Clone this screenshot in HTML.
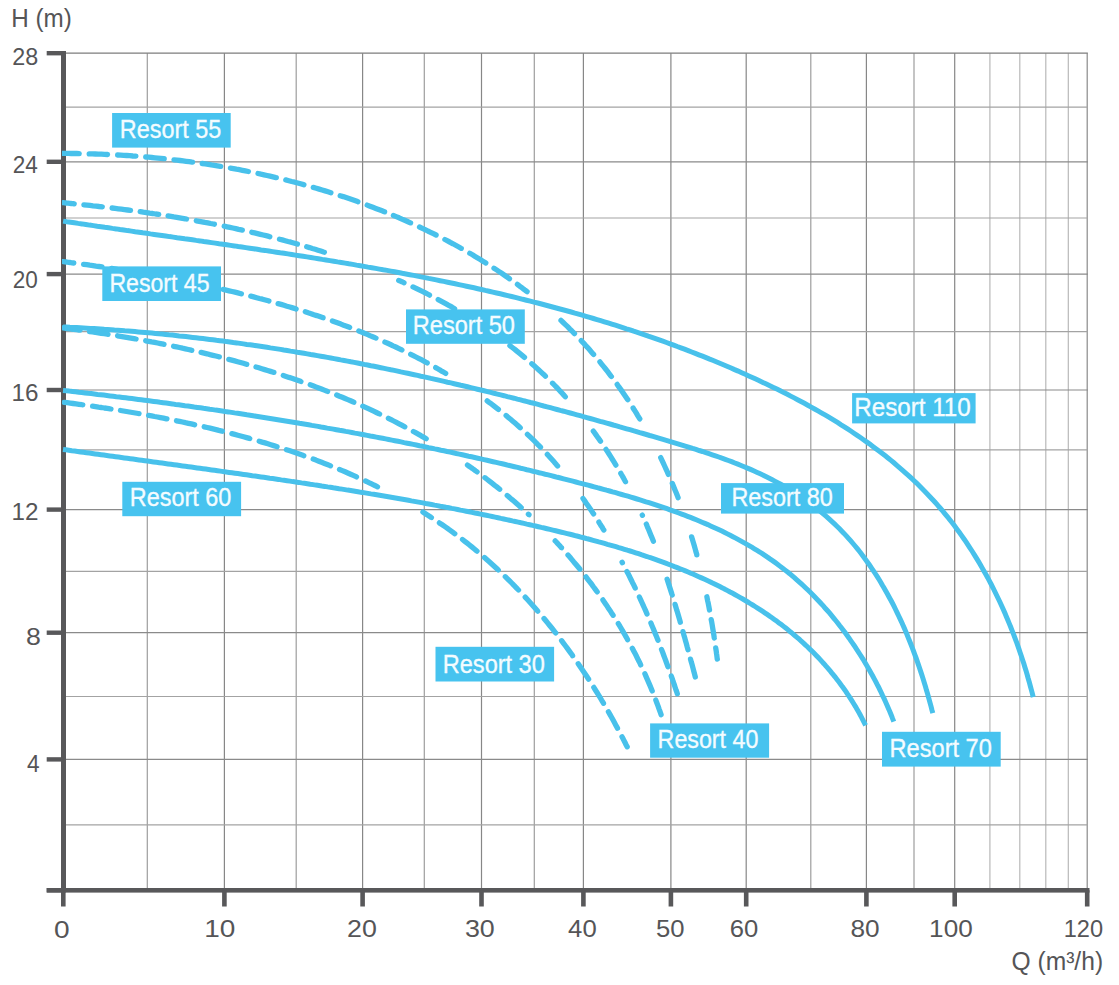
<!DOCTYPE html>
<html><head><meta charset="utf-8"><title>Resort pump curves</title>
<style>html,body{margin:0;padding:0;background:#fff;} body{width:1119px;height:985px;position:relative;overflow:hidden;}</style>
</head><body>
<svg width="1119" height="985" viewBox="0 0 1119 985" style="position:absolute;left:0;top:0">
<line x1="147.3" y1="53.2" x2="147.3" y2="890.2" stroke="#9d9d9d" stroke-width="1.2"/>
<line x1="224.4" y1="53.2" x2="224.4" y2="890.2" stroke="#878787" stroke-width="1.2"/>
<line x1="296.2" y1="53.2" x2="296.2" y2="890.2" stroke="#9d9d9d" stroke-width="1.2"/>
<line x1="362.6" y1="53.2" x2="362.6" y2="890.2" stroke="#878787" stroke-width="1.2"/>
<line x1="424.3" y1="53.2" x2="424.3" y2="890.2" stroke="#9d9d9d" stroke-width="1.2"/>
<line x1="481.5" y1="53.2" x2="481.5" y2="890.2" stroke="#878787" stroke-width="1.2"/>
<line x1="534.3" y1="53.2" x2="534.3" y2="890.2" stroke="#9d9d9d" stroke-width="1.2"/>
<line x1="583.4" y1="53.2" x2="583.4" y2="890.2" stroke="#878787" stroke-width="1.2"/>
<line x1="670.9" y1="53.2" x2="670.9" y2="890.2" stroke="#878787" stroke-width="1.2"/>
<line x1="746.2" y1="53.2" x2="746.2" y2="890.2" stroke="#878787" stroke-width="1.2"/>
<line x1="810.8" y1="53.2" x2="810.8" y2="890.2" stroke="#9d9d9d" stroke-width="1.2"/>
<line x1="866.4" y1="53.2" x2="866.4" y2="890.2" stroke="#878787" stroke-width="1.2"/>
<line x1="914.0" y1="53.2" x2="914.0" y2="890.2" stroke="#9d9d9d" stroke-width="1.2"/>
<line x1="954.7" y1="53.2" x2="954.7" y2="890.2" stroke="#878787" stroke-width="1.2"/>
<line x1="989.9" y1="53.2" x2="989.9" y2="890.2" stroke="#b8b8b8" stroke-width="1.2"/>
<line x1="1019.8" y1="53.2" x2="1019.8" y2="890.2" stroke="#b8b8b8" stroke-width="1.2"/>
<line x1="1045.8" y1="53.2" x2="1045.8" y2="890.2" stroke="#b8b8b8" stroke-width="1.2"/>
<line x1="1068.3" y1="53.2" x2="1068.3" y2="890.2" stroke="#b8b8b8" stroke-width="1.2"/>
<line x1="1087.2" y1="53.2" x2="1087.2" y2="890.2" stroke="#8a8a8a" stroke-width="1.2"/>
<line x1="63.3" y1="53.2" x2="1087.8500000000001" y2="53.2" stroke="#7d7d7d" stroke-width="1.2"/>
<line x1="63.3" y1="107.2" x2="1087.8500000000001" y2="107.2" stroke="#a3a3a3" stroke-width="1.2"/>
<line x1="63.3" y1="161.8" x2="1087.8500000000001" y2="161.8" stroke="#8a8a8a" stroke-width="1.2"/>
<line x1="63.3" y1="218.0" x2="1087.8500000000001" y2="218.0" stroke="#a3a3a3" stroke-width="1.2"/>
<line x1="63.3" y1="274.1" x2="1087.8500000000001" y2="274.1" stroke="#8a8a8a" stroke-width="1.2"/>
<line x1="63.3" y1="331.6" x2="1087.8500000000001" y2="331.6" stroke="#a3a3a3" stroke-width="1.2"/>
<line x1="63.3" y1="390.0" x2="1087.8500000000001" y2="390.0" stroke="#8a8a8a" stroke-width="1.2"/>
<line x1="63.3" y1="449.8" x2="1087.8500000000001" y2="449.8" stroke="#a3a3a3" stroke-width="1.2"/>
<line x1="63.3" y1="509.6" x2="1087.8500000000001" y2="509.6" stroke="#8a8a8a" stroke-width="1.2"/>
<line x1="63.3" y1="571.3" x2="1087.8500000000001" y2="571.3" stroke="#a3a3a3" stroke-width="1.2"/>
<line x1="63.3" y1="632.7" x2="1087.8500000000001" y2="632.7" stroke="#8a8a8a" stroke-width="1.2"/>
<line x1="63.3" y1="696.5" x2="1087.8500000000001" y2="696.5" stroke="#a3a3a3" stroke-width="1.2"/>
<line x1="63.3" y1="759.4" x2="1087.8500000000001" y2="759.4" stroke="#8a8a8a" stroke-width="1.2"/>
<line x1="63.3" y1="824.8" x2="1087.8500000000001" y2="824.8" stroke="#a3a3a3" stroke-width="1.2"/>
<rect x="61" y="51.0" width="5" height="841.4" fill="#58585a"/>
<rect x="46.7" y="888" width="1042.8" height="4.6" fill="#58585a"/>
<rect x="46.7" y="888.0" width="16.299999999999997" height="4.4" fill="#58585a"/>
<rect x="46.7" y="757.1999999999999" width="16.299999999999997" height="4.4" fill="#58585a"/>
<rect x="46.7" y="630.5" width="16.299999999999997" height="4.4" fill="#58585a"/>
<rect x="46.7" y="507.40000000000003" width="16.299999999999997" height="4.4" fill="#58585a"/>
<rect x="46.7" y="387.8" width="16.299999999999997" height="4.4" fill="#58585a"/>
<rect x="46.7" y="271.90000000000003" width="16.299999999999997" height="4.4" fill="#58585a"/>
<rect x="46.7" y="159.60000000000002" width="16.299999999999997" height="4.4" fill="#58585a"/>
<rect x="46.7" y="51.0" width="16.299999999999997" height="4.4" fill="#58585a"/>
<rect x="61.0" y="890.2" width="4.6" height="16.3" fill="#58585a"/>
<rect x="952.4000000000001" y="890.2" width="4.6" height="16.3" fill="#58585a"/>
<rect x="581.1" y="890.2" width="4.6" height="16.3" fill="#58585a"/>
<rect x="222.1" y="890.2" width="4.6" height="16.3" fill="#58585a"/>
<rect x="864.1" y="890.2" width="4.6" height="16.3" fill="#58585a"/>
<rect x="668.6" y="890.2" width="4.6" height="16.3" fill="#58585a"/>
<rect x="360.3" y="890.2" width="4.6" height="16.3" fill="#58585a"/>
<rect x="1084.9" y="890.2" width="4.6" height="16.3" fill="#58585a"/>
<rect x="743.9000000000001" y="890.2" width="4.6" height="16.3" fill="#58585a"/>
<rect x="479.2" y="890.2" width="4.6" height="16.3" fill="#58585a"/>
<defs><clipPath id="cx"><rect x="62" y="0" width="1100" height="985"/></clipPath></defs>
<g clip-path="url(#cx)"><path d="M63.0,153.4 L65.8,153.4 L68.5,153.4 L71.2,153.5 L74.0,153.5 L76.7,153.5 L79.2,153.6 M89.2,153.8 L92.3,153.9 L95.3,154.0 L98.4,154.1 L101.4,154.2 L104.5,154.3 L107.5,154.5 M117.6,155.0 L120.6,155.2 L123.7,155.4 L126.7,155.5 L129.8,155.7 L132.8,156.0 L135.9,156.2 M145.7,157.0 L148.7,157.2 L151.8,157.5 L154.8,157.8 L157.8,158.1 L160.9,158.4 L163.9,158.7 L164.2,158.7 M174.0,159.8 L177.0,160.1 L180.1,160.5 L183.1,160.9 L186.2,161.3 L189.2,161.7 L192.2,162.1 L192.5,162.1 M202.2,163.5 L205.3,163.9 L208.3,164.4 L211.3,164.9 L214.4,165.3 L217.4,165.8 L220.4,166.3 L220.7,166.4 M230.4,168.1 L233.4,168.6 L236.4,169.2 L239.4,169.7 L242.4,170.3 L245.4,170.9 L248.4,171.5 M258.0,173.5 L261.0,174.2 L264.0,174.8 L267.0,175.5 L270.0,176.2 L273.0,176.9 L276.0,177.6 L276.3,177.6 M285.8,179.9 L288.8,180.7 L291.7,181.5 L294.7,182.2 L297.7,183.0 L300.6,183.8 L303.6,184.6 L303.9,184.7 M313.3,187.4 L316.3,188.2 L319.2,189.1 L322.1,190.0 L325.1,190.9 L328.0,191.8 L330.9,192.7 M340.2,195.7 L343.2,196.6 L346.1,197.6 L349.0,198.6 L351.9,199.6 L354.8,200.6 L357.6,201.6 L357.9,201.7 M367.2,205.1 L370.0,206.2 L372.9,207.3 L375.8,208.4 L378.6,209.5 L381.5,210.6 L384.3,211.7 L384.6,211.8 M393.4,215.5 L396.2,216.6 L399.1,217.8 L401.9,219.1 L404.7,220.3 L407.5,221.5 L410.3,222.8 L410.6,222.9 M419.5,227.0 L422.3,228.3 L425.1,229.6 L427.8,231.0 L430.6,232.3 L433.4,233.7 L436.1,235.0 M444.9,239.5 L447.6,240.9 L450.3,242.4 L453.0,243.8 L455.7,245.3 L458.4,246.8 L461.0,248.3 L461.3,248.4 M469.8,253.3 L472.5,254.8 L475.1,256.4 L477.7,258.0 L480.3,259.6 L482.9,261.2 L485.5,262.8 L485.8,263.0 M494.0,268.2 L496.6,269.9 L499.1,271.6 L501.7,273.3 L504.2,275.0 L506.7,276.8 L509.2,278.5 L509.5,278.7 M517.4,284.4 L518.9,285.5 L520.3,286.6 L521.8,287.7 L523.3,288.8 L524.7,289.9 L526.2,291.0 L527.1,291.7 M561.0,320.4 L563.2,322.5 L565.4,324.6 L567.6,326.7 L569.7,328.9 L571.9,331.0 L574.0,333.2 L574.5,333.6 M581.2,340.6 L583.3,342.8 L585.3,345.1 L587.4,347.3 L589.4,349.6 L591.4,351.9 L593.4,354.2 L593.6,354.4 M599.9,361.9 L601.8,364.3 L603.7,366.6 L605.6,369.0 L607.5,371.4 L609.3,373.8 L611.2,376.3 L611.4,376.5 M617.2,384.4 L618.9,386.9 L620.7,389.4 L622.5,391.9 L624.2,394.4 L625.9,396.9 L627.6,399.5 L627.8,399.7 M633.1,408.0 L634.2,409.8 L635.4,411.6 L636.5,413.4 L637.6,415.3 L638.7,417.1 L639.8,418.9 M660.7,457.6 L662.0,460.4 L663.3,463.2 L664.6,466.0 L665.9,468.8 L667.2,471.6 L668.4,474.4 M672.3,483.4 L673.3,485.7 L674.2,488.0 L675.1,490.2 L676.1,492.5 L677.0,494.8 L677.9,497.1 L678.1,497.7 M691.6,536.9 L692.5,539.8 L693.4,542.7 L694.3,545.7 L695.1,548.6 L695.9,551.6 L696.8,554.5 L696.8,554.8 M706.9,596.8 L707.3,598.9 L707.7,601.0 L708.2,603.1 L708.6,605.2 L709.0,607.3 L709.4,609.4 L709.5,610.0 M711.2,619.6 L711.8,622.6 L712.3,625.7 L712.8,628.7 L713.3,631.7 L713.8,634.7 L714.2,637.7 L714.3,638.0 M715.7,647.9 L716.0,649.7 L716.3,651.5 L716.5,653.4 L716.8,655.2 L717.0,657.0 L717.2,658.8 L717.3,659.1" fill="none" stroke="#48c1eb" stroke-width="5.3" stroke-linecap="round" stroke-linejoin="round"/><path d="M63.2,202.7 L64.8,202.8 L66.4,203.0 L68.1,203.1 L69.7,203.3 L71.4,203.5 L73.1,203.6 L74.2,203.8 M83.9,204.8 L86.9,205.1 L90.0,205.4 L93.0,205.8 L96.1,206.1 L99.2,206.5 L102.3,206.8 M112.1,208.0 L115.2,208.4 L118.3,208.8 L121.4,209.2 L124.5,209.6 L127.7,210.0 L130.5,210.4 M140.2,211.7 L143.3,212.2 L146.4,212.6 L149.6,213.1 L152.7,213.5 L155.8,214.0 L158.7,214.4 M168.1,215.9 L171.0,216.4 L173.9,216.9 L176.8,217.3 L179.6,217.8 L182.5,218.3 L185.4,218.8 L186.5,219.0 M196.3,220.8 L199.2,221.3 L202.0,221.8 L204.9,222.4 L207.8,222.9 L210.7,223.5 L213.5,224.0 L214.4,224.2 M224.2,226.2 L227.1,226.8 L229.9,227.4 L232.8,228.0 L235.7,228.6 L238.6,229.3 L241.4,229.9 L242.3,230.1 M251.8,232.3 L254.6,232.9 L257.5,233.6 L260.4,234.3 L263.2,235.0 L266.1,235.7 L268.9,236.4 L269.8,236.7 M279.5,239.2 L282.3,239.9 L285.2,240.7 L288.0,241.5 L290.9,242.2 L293.7,243.0 L296.5,243.8 L297.4,244.1 M306.7,246.8 L309.5,247.6 L312.3,248.5 L315.2,249.3 L318.0,250.2 L320.8,251.1 L323.6,252.0 L324.4,252.2 M398.7,280.4 L399.5,280.7 L400.3,281.1 L401.1,281.4 L401.9,281.8 L402.7,282.1 L403.5,282.5 L404.0,282.7 M413.0,286.9 L415.6,288.1 L418.2,289.4 L420.8,290.7 L423.4,291.9 L425.9,293.2 L428.5,294.5 L429.5,295.1 M438.2,299.6 L441.0,301.1 L443.8,302.6 L446.6,304.1 L449.3,305.7 L452.1,307.2 L454.6,308.7 M463.0,313.6 L465.7,315.2 L468.3,316.9 L471.0,318.5 L473.7,320.2 L476.3,321.9 L478.7,323.5 M487.0,329.0 L489.6,330.8 L492.2,332.6 L494.8,334.4 L497.3,336.2 L499.8,338.1 L502.1,339.7 M509.9,345.6 L512.3,347.5 L514.8,349.4 L517.2,351.4 L519.7,353.4 L522.1,355.4 L524.5,357.4 M531.8,363.7 L534.2,365.8 L536.5,367.9 L538.8,370.0 L541.1,372.1 L543.4,374.2 L545.4,376.2 M552.5,383.2 L554.8,385.5 L556.9,387.7 L559.1,390.0 L561.3,392.3 L563.4,394.6 L565.3,396.7 M593.3,431.1 L594.5,432.7 L595.7,434.4 L596.8,436.0 L598.0,437.7 L599.2,439.3 L600.3,441.0 L600.5,441.2 M606.0,449.4 L607.6,451.8 L609.2,454.3 L610.7,456.7 L612.3,459.2 L613.8,461.6 L615.3,464.1 L615.9,465.1 M620.8,473.4 L621.5,474.6 L622.3,475.9 L623.0,477.2 L623.7,478.4 L624.4,479.7 L625.1,481.0 L625.5,481.7 M642.3,515.1 L642.4,515.3 M646.3,524.1 L647.4,526.8 L648.6,529.5 L649.7,532.2 L650.8,534.9 L651.9,537.6 L653.0,540.3 L653.4,541.3 M667.1,579.2 L667.9,581.6 L668.7,584.1 L669.5,586.6 L670.3,589.1 L671.1,591.6 L671.9,594.1 L672.2,594.9 M675.1,604.4 L675.9,607.2 L676.7,609.9 L677.6,612.7 L678.4,615.5 L679.2,618.3 L680.0,621.1 L680.3,622.2 M683.0,631.6 L683.8,634.7 L684.7,637.7 L685.5,640.8 L686.4,643.8 L687.2,646.9 L688.0,649.7 M690.5,659.1 L691.3,662.1 L692.2,665.1 L693.0,668.2 L693.8,671.2 L694.6,674.2 L695.3,677.0" fill="none" stroke="#48c1eb" stroke-width="5.3" stroke-linecap="round" stroke-linejoin="round"/><path d="M63.2,261.6 L64.9,261.8 L66.7,262.0 L68.5,262.3 L70.3,262.5 L72.1,262.8 L73.8,263.0 M83.6,264.3 L86.7,264.7 L89.8,265.2 L92.9,265.6 L96.0,266.1 L99.1,266.5 L102.0,266.9 M111.6,268.4 L114.5,268.8 L117.4,269.3 L120.2,269.7 L123.1,270.2 L126.0,270.6 L128.9,271.1 L130.0,271.3 M139.7,272.9 L142.7,273.4 L145.6,273.9 L148.5,274.4 L151.4,274.9 L154.3,275.4 L157.2,275.9 L158.0,276.1 M167.6,277.9 L170.6,278.4 L173.5,279.0 L176.4,279.5 L179.4,280.1 L182.3,280.7 L185.2,281.3 L185.8,281.4 M195.4,283.3 L198.3,283.9 L201.3,284.6 L204.2,285.2 L207.2,285.8 L210.1,286.5 L213.1,287.1 L213.6,287.2 M223.2,289.4 L226.2,290.1 L229.1,290.8 L232.1,291.5 L235.0,292.2 L237.9,292.9 L240.9,293.7 L241.4,293.8 M250.8,296.2 L253.7,296.9 L256.6,297.7 L259.5,298.5 L262.5,299.2 L265.4,300.0 L268.3,300.8 L268.9,301.0 M278.1,303.6 L281.1,304.4 L284.0,305.3 L286.9,306.2 L289.8,307.0 L292.7,307.9 L295.6,308.8 L296.1,309.0 M305.3,311.8 L308.2,312.8 L311.1,313.7 L313.9,314.7 L316.8,315.6 L319.7,316.6 L322.5,317.6 L323.1,317.7 M332.4,321.0 L335.2,322.0 L338.1,323.1 L340.9,324.1 L343.7,325.2 L346.6,326.2 L349.4,327.3 L349.6,327.4 M358.8,331.0 L361.6,332.1 L364.4,333.3 L367.2,334.4 L369.9,335.6 L372.7,336.7 L375.5,337.9 L376.0,338.1 M384.9,342.1 L387.7,343.3 L390.4,344.5 L393.1,345.8 L395.8,347.0 L398.5,348.3 L401.2,349.6 L401.9,350.0 M410.7,354.3 L413.3,355.6 L416.0,357.0 L418.6,358.3 L421.3,359.7 L423.9,361.1 L426.5,362.5 L427.2,362.9 M435.7,367.6 L437.3,368.5 L439.0,369.5 L440.6,370.4 L442.2,371.4 L443.8,372.3 L445.5,373.3 L445.7,373.4 M487.2,400.8 L489.1,402.3 L491.0,403.7 L492.9,405.1 L494.8,406.6 L496.7,408.1 L498.4,409.4 M506.1,415.5 L508.3,417.4 L510.6,419.3 L512.8,421.2 L515.0,423.1 L517.2,425.0 L519.4,427.0 L520.2,427.7 M527.4,434.3 L529.6,436.4 L531.7,438.4 L533.8,440.4 L535.9,442.5 L537.9,444.6 L540.0,446.7 L540.5,447.2 M547.3,454.4 L549.0,456.2 L550.6,458.0 L552.2,459.8 L553.8,461.6 L555.4,463.4 L556.9,465.2 L557.6,466.0 M583.0,498.5 L584.7,500.9 L586.4,503.4 L588.1,505.8 L589.8,508.3 L591.5,510.8 L593.1,513.2 L593.6,513.9 M598.9,522.1 L599.6,523.3 L600.3,524.4 L601.0,525.6 L601.8,526.7 L602.5,527.9 L603.2,529.1 L603.8,530.0 M622.1,562.2 L622.3,562.5 L622.4,562.7 M626.9,571.5 L628.3,574.1 L629.7,576.8 L631.0,579.5 L632.3,582.2 L633.7,584.9 L635.0,587.6 L635.2,588.1 M639.4,597.0 L640.7,599.8 L641.9,602.5 L643.1,605.2 L644.4,608.0 L645.6,610.7 L646.8,613.5 L647.0,614.0 M650.9,623.0 L652.0,625.7 L653.2,628.5 L654.3,631.3 L655.4,634.0 L656.6,636.8 L657.7,639.6 L658.0,640.3 M661.5,649.4 L662.6,652.2 L663.6,655.0 L664.6,657.7 L665.7,660.5 L666.7,663.3 L667.7,666.0 L668.0,666.8 M671.3,676.1 L672.3,678.9 L673.2,681.7 L674.2,684.4 L675.1,687.2 L676.0,690.0 L677.0,692.7 L677.3,693.7" fill="none" stroke="#48c1eb" stroke-width="5.3" stroke-linecap="round" stroke-linejoin="round"/><path d="M63.1,327.9 L65.8,328.3 L68.4,328.6 L71.1,329.0 L73.8,329.3 L76.5,329.7 L79.2,330.1 L80.0,330.2 M89.5,331.5 L92.5,331.9 L95.4,332.4 L98.4,332.8 L101.3,333.3 L104.3,333.7 L107.3,334.2 L108.0,334.3 M117.6,335.8 L120.6,336.3 L123.5,336.8 L126.5,337.3 L129.4,337.8 L132.4,338.3 L135.4,338.9 L136.1,339.0 M145.7,340.8 L148.7,341.3 L151.6,341.9 L154.6,342.4 L157.6,343.0 L160.5,343.6 L163.5,344.2 L164.0,344.3 M173.6,346.3 L176.6,346.9 L179.5,347.5 L182.5,348.2 L185.4,348.8 L188.4,349.5 L191.3,350.2 L191.8,350.3 M201.1,352.4 L204.1,353.1 L207.0,353.8 L210.0,354.6 L212.9,355.3 L215.9,356.0 L218.8,356.8 L219.3,356.9 M228.8,359.4 L231.7,360.1 L234.7,360.9 L237.6,361.7 L240.5,362.5 L243.4,363.3 L246.3,364.2 L246.8,364.3 M256.0,367.0 L258.9,367.8 L261.8,368.7 L264.7,369.6 L267.6,370.5 L270.5,371.4 L273.4,372.3 L273.9,372.4 M283.3,375.5 L286.1,376.4 L289.0,377.4 L291.9,378.3 L294.7,379.3 L297.6,380.3 L300.5,381.3 L300.9,381.5 M310.2,384.8 L313.0,385.8 L315.8,386.9 L318.7,388.0 L321.5,389.0 L324.3,390.1 L327.1,391.2 L327.6,391.4 M336.7,395.0 L339.5,396.2 L342.3,397.3 L345.1,398.5 L347.8,399.6 L350.6,400.8 L353.4,402.0 L353.8,402.2 M362.8,406.2 L365.5,407.4 L368.3,408.7 L371.0,409.9 L373.7,411.2 L376.4,412.5 L379.2,413.8 L379.6,414.0 M388.4,418.3 L391.1,419.7 L393.7,421.0 L396.4,422.4 L399.1,423.8 L401.7,425.2 L404.4,426.6 L404.8,426.8 M413.4,431.5 L415.6,432.7 L417.8,433.9 L420.0,435.1 L422.1,436.4 L424.3,437.6 L426.2,438.7 M467.5,465.1 L469.1,466.2 L470.8,467.4 L472.4,468.5 L474.0,469.7 L475.6,470.9 L477.1,471.9 M484.9,477.7 L487.3,479.5 L489.7,481.4 L492.0,483.2 L494.4,485.1 L496.8,486.9 L499.1,488.8 L499.7,489.3 M507.2,495.5 L509.5,497.4 L511.8,499.4 L514.1,501.3 L516.3,503.3 L518.6,505.3 L520.8,507.3 L521.2,507.6 M528.4,514.2 L528.6,514.4 L528.8,514.6 L529.0,514.7 M555.2,540.9 L556.3,542.0 L557.3,543.1 L558.3,544.2 L559.3,545.3 L560.3,546.4 L561.3,547.6 L561.5,547.7 M568.0,555.0 L570.0,557.3 L571.9,559.6 L573.8,561.9 L575.8,564.2 L577.7,566.5 L579.6,568.8 L579.9,569.2 M586.0,576.9 L587.8,579.3 L589.6,581.6 L591.5,584.0 L593.2,586.5 L595.0,588.9 L596.8,591.3 L597.2,591.9 M602.9,599.9 L604.6,602.4 L606.3,604.9 L607.9,607.4 L609.6,609.9 L611.2,612.4 L612.9,614.9 L613.1,615.3 M618.3,623.6 L619.9,626.2 L621.4,628.8 L622.9,631.4 L624.4,634.0 L625.9,636.6 L627.4,639.2 L627.6,639.7 M632.3,648.3 L633.7,651.0 L635.1,653.6 L636.5,656.3 L637.8,659.0 L639.2,661.7 L640.5,664.4 L640.7,664.9 M644.9,673.8 L646.1,676.6 L647.3,679.3 L648.5,682.1 L649.7,684.9 L650.9,687.7 L652.0,690.5 L652.2,690.9 M655.8,700.1 L656.7,702.5 L657.6,704.9 L658.5,707.3 L659.3,709.6 L660.2,712.0 L661.0,714.4 L661.1,714.7" fill="none" stroke="#48c1eb" stroke-width="5.3" stroke-linecap="round" stroke-linejoin="round"/><path d="M64.3,402.3 L67.3,402.7 L70.2,403.1 L73.1,403.5 L76.1,403.9 L79.0,404.3 L81.9,404.7 L82.8,404.8 M92.6,406.2 L95.5,406.6 L98.5,407.1 L101.4,407.5 L104.4,408.0 L107.3,408.4 L110.3,408.9 L111.0,409.0 M120.5,410.5 L123.5,411.0 L126.5,411.5 L129.4,412.0 L132.4,412.5 L135.4,413.0 L138.3,413.5 L139.0,413.6 M148.6,415.4 L151.6,415.9 L154.6,416.5 L157.5,417.0 L160.5,417.6 L163.5,418.2 L166.5,418.8 L166.9,418.9 M176.5,420.8 L179.5,421.4 L182.5,422.0 L185.4,422.7 L188.4,423.3 L191.4,423.9 L194.3,424.6 L194.6,424.7 M204.2,426.8 L207.1,427.5 L210.1,428.2 L213.0,428.9 L216.0,429.6 L218.9,430.4 L221.9,431.1 L222.4,431.2 M231.9,433.7 L234.8,434.4 L237.8,435.2 L240.7,436.0 L243.6,436.8 L246.6,437.6 L249.5,438.4 L249.7,438.5 M259.2,441.2 L262.1,442.1 L265.0,442.9 L267.9,443.8 L270.8,444.7 L273.7,445.6 L276.6,446.5 L277.0,446.7 M286.4,449.7 L289.2,450.6 L292.1,451.6 L295.0,452.6 L297.8,453.6 L300.7,454.6 L303.5,455.6 L303.8,455.7 M313.2,459.1 L316.0,460.1 L318.8,461.2 L321.6,462.3 L324.5,463.4 L327.3,464.5 L330.1,465.6 L330.5,465.8 M339.5,469.5 L342.3,470.6 L345.1,471.8 L347.8,473.0 L350.6,474.2 L353.3,475.4 L356.1,476.7 L356.5,476.9 M365.5,481.0 L367.4,481.9 L369.3,482.8 L371.1,483.7 L373.0,484.6 L374.9,485.5 L376.7,486.4 L377.5,486.8 M422.9,512.1 L424.3,513.0 L425.6,513.8 L427.0,514.7 L428.3,515.5 L429.7,516.4 L431.0,517.3 L431.4,517.5 M439.4,522.9 L441.9,524.5 L444.3,526.2 L446.8,527.9 L449.2,529.7 L451.6,531.4 L454.0,533.2 L454.8,533.7 M462.5,539.5 L464.8,541.3 L467.2,543.2 L469.5,545.0 L471.8,546.9 L474.1,548.8 L476.4,550.7 L477.0,551.1 M484.5,557.5 L486.7,559.5 L489.0,561.5 L491.2,563.5 L493.4,565.5 L495.6,567.5 L497.8,569.5 L498.3,570.0 M505.3,576.7 L507.5,578.8 L509.6,580.9 L511.7,583.0 L513.8,585.2 L515.9,587.3 L518.0,589.5 L518.5,590.0 M525.2,597.1 L527.2,599.3 L529.2,601.5 L531.2,603.7 L533.2,606.0 L535.2,608.3 L537.2,610.5 L537.7,611.1 M544.0,618.5 L545.9,620.8 L547.8,623.1 L549.7,625.5 L551.6,627.8 L553.5,630.2 L555.4,632.6 L555.7,632.9 M561.6,640.7 L563.4,643.1 L565.2,645.5 L567.0,647.9 L568.8,650.4 L570.6,652.8 L572.4,655.3 L572.6,655.7 M578.2,663.7 L579.9,666.2 L581.6,668.7 L583.3,671.2 L585.0,673.7 L586.7,676.2 L588.3,678.8 L588.6,679.2 M593.8,687.4 L595.4,690.0 L597.0,692.5 L598.6,695.1 L600.2,697.7 L601.7,700.3 L603.3,702.9 L603.5,703.3 M608.4,711.7 L609.9,714.4 L611.4,717.0 L612.8,719.6 L614.3,722.3 L615.7,724.9 L617.2,727.6 L617.5,728.2 M622.0,736.8 L622.9,738.4 L623.7,740.0 L624.6,741.7 L625.4,743.3 L626.2,745.0 L627.1,746.6 L627.2,746.8" fill="none" stroke="#48c1eb" stroke-width="5.3" stroke-linecap="round" stroke-linejoin="round"/><path d="M63.1,221.1 L66.9,221.7 L70.6,222.2 L74.4,222.8 L78.2,223.4 L82.0,223.9 L85.8,224.5 L89.6,225.1 L93.4,225.6 L97.2,226.2 L101.0,226.7 L104.8,227.3 L108.6,227.8 L112.4,228.4 L116.2,228.9 L120.0,229.5 L123.8,230.0 L127.6,230.6 L131.4,231.1 L135.2,231.7 L139.0,232.2 L142.8,232.8 L146.6,233.3 L150.4,233.9 L154.2,234.4 L158.0,234.9 L161.9,235.5 L165.7,236.0 L169.5,236.6 L173.3,237.1 L177.1,237.7 L180.9,238.2 L184.7,238.8 L188.6,239.3 L192.4,239.8 L196.2,240.4 L200.0,240.9 L203.8,241.5 L207.6,242.0 L211.5,242.6 L215.3,243.1 L219.1,243.7 L222.9,244.2 L226.7,244.8 L230.6,245.4 L234.4,245.9 L238.2,246.5 L242.0,247.0 L245.8,247.6 L249.7,248.2 L253.5,248.7 L257.3,249.3 L261.1,249.9 L265.0,250.4 L268.8,251.0 L272.6,251.6 L276.4,252.2 L280.2,252.8 L284.1,253.3 L287.9,253.9 L291.7,254.5 L295.5,255.1 L299.3,255.7 L303.1,256.3 L307.0,256.9 L310.8,257.5 L314.6,258.1 L318.4,258.7 L322.2,259.4 L326.0,260.0 L329.9,260.6 L333.7,261.2 L337.5,261.9 L341.3,262.5 L345.1,263.1 L348.9,263.8 L352.7,264.4 L356.5,265.1 L360.3,265.7 L364.2,266.4 L368.0,267.1 L371.8,267.7 L375.6,268.4 L379.4,269.1 L383.2,269.8 L387.0,270.4 L390.8,271.1 L394.6,271.8 L398.4,272.5 L402.2,273.3 L406.0,274.0 L409.8,274.7 L413.6,275.4 L417.3,276.1 L421.1,276.9 L424.9,277.6 L428.7,278.4 L432.5,279.1 L436.3,279.9 L440.1,280.7 L443.8,281.4 L447.6,282.2 L451.4,283.0 L455.2,283.8 L458.9,284.6 L462.7,285.4 L466.5,286.2 L470.2,287.0 L474.0,287.8 L477.8,288.7 L481.5,289.5 L485.3,290.4 L489.1,291.2 L492.8,292.1 L496.6,293.0 L500.3,293.8 L504.1,294.7 L507.8,295.6 L511.6,296.5 L515.3,297.4 L519.1,298.3 L522.8,299.3 L526.5,300.2 L530.3,301.1 L534.0,302.1 L537.7,303.0 L541.5,304.0 L545.2,305.0 L548.9,306.0 L552.6,307.0 L556.3,308.0 L560.0,309.0 L563.8,310.0 L567.5,311.0 L571.2,312.0 L574.9,313.1 L578.6,314.1 L582.3,315.2 L586.0,316.3 L589.7,317.4 L593.4,318.5 L597.0,319.6 L600.7,320.7 L604.4,321.8 L608.1,322.9 L611.8,324.1 L615.4,325.2 L619.1,326.4 L622.8,327.6 L626.4,328.8 L630.1,329.9 L633.7,331.2 L637.4,332.4 L641.0,333.6 L644.7,334.8 L648.3,336.1 L652.0,337.3 L655.6,338.6 L659.2,339.9 L662.9,341.2 L666.5,342.5 L670.1,343.8 L673.7,345.1 L677.3,346.5 L680.9,347.8 L684.5,349.2 L688.2,350.6 L691.7,352.0 L695.3,353.4 L698.9,354.8 L702.5,356.2 L706.1,357.6 L709.7,359.1 L713.3,360.5 L716.8,362.0 L720.4,363.5 L724.0,365.0 L727.5,366.5 L731.1,368.0 L734.6,369.6 L738.2,371.1 L741.7,372.7 L745.3,374.3 L748.8,375.9 L752.3,377.5 L755.8,379.1 L759.4,380.7 L762.9,382.4 L766.4,384.0 L769.9,385.7 L773.4,387.4 L776.9,389.1 L780.3,390.8 L783.8,392.6 L787.3,394.3 L790.7,396.1 L794.2,397.9 L797.6,399.7 L801.0,401.5 L804.4,403.3 L807.8,405.2 L811.2,407.1 L814.6,409.0 L818.0,410.9 L821.3,412.8 L824.6,414.7 L828.0,416.7 L831.3,418.7 L834.6,420.7 L837.9,422.7 L841.1,424.8 L844.4,426.8 L847.6,428.9 L850.8,431.0 L854.0,433.2 L857.2,435.3 L860.4,437.5 L863.5,439.7 L866.6,441.9 L869.8,444.1 L872.8,446.4 L875.9,448.7 L879.0,451.0 L882.0,453.3 L885.0,455.6 L888.0,458.0 L891.0,460.4 L893.9,462.8 L896.8,465.3 L899.7,467.8 L902.6,470.3 L905.4,472.8 L908.3,475.3 L911.1,477.9 L913.8,480.5 L916.6,483.1 L919.3,485.8 L922.0,488.5 L924.7,491.2 L927.3,493.9 L929.9,496.7 L932.5,499.5 L935.1,502.3 L937.6,505.1 L940.1,508.0 L942.6,510.9 L945.0,513.8 L947.5,516.8 L949.8,519.8 L952.2,522.8 L954.5,525.8 L956.8,528.9 L959.1,532.0 L961.3,535.1 L963.5,538.2 L965.7,541.4 L967.8,544.6 L969.9,547.8 L972.0,551.0 L974.1,554.3 L976.1,557.6 L978.1,560.9 L980.1,564.2 L982.0,567.6 L983.9,570.9 L985.8,574.3 L987.7,577.7 L989.5,581.1 L991.3,584.5 L993.1,588.0 L994.8,591.5 L996.5,595.0 L998.2,598.5 L999.9,602.0 L1001.5,605.5 L1003.1,609.1 L1004.7,612.6 L1006.2,616.2 L1007.7,619.8 L1009.2,623.4 L1010.7,627.0 L1012.1,630.6 L1013.5,634.2 L1014.9,637.9 L1016.3,641.5 L1017.6,645.2 L1018.9,648.9 L1020.1,652.5 L1021.4,656.2 L1022.6,659.9 L1023.8,663.6 L1024.9,667.3 L1026.1,671.1 L1027.2,674.8 L1028.2,678.5 L1029.3,682.2 L1030.3,686.0 L1031.3,689.7 L1032.3,693.4 L1033.2,697.2" fill="none" stroke="#48c1eb" stroke-width="5" stroke-linecap="butt"/><path d="M63.0,326.9 L66.4,327.1 L69.9,327.3 L73.3,327.4 L76.7,327.6 L80.2,327.8 L83.6,328.0 L87.0,328.2 L90.4,328.4 L93.9,328.6 L97.3,328.8 L100.7,329.0 L104.2,329.3 L107.6,329.5 L111.0,329.7 L114.4,330.0 L117.8,330.2 L121.2,330.5 L124.7,330.8 L128.1,331.0 L131.5,331.3 L134.9,331.6 L138.3,331.9 L141.7,332.2 L145.1,332.5 L148.5,332.8 L151.9,333.1 L155.3,333.4 L158.7,333.8 L162.1,334.1 L165.5,334.4 L168.9,334.8 L172.3,335.1 L175.7,335.5 L179.1,335.9 L182.5,336.2 L185.9,336.6 L189.3,337.0 L192.7,337.4 L196.1,337.8 L199.5,338.2 L202.9,338.6 L206.2,339.0 L209.6,339.4 L213.0,339.8 L216.4,340.3 L219.8,340.7 L223.2,341.1 L226.5,341.6 L229.9,342.0 L233.3,342.5 L236.7,342.9 L240.0,343.4 L243.4,343.9 L246.8,344.4 L250.2,344.8 L253.5,345.3 L256.9,345.8 L260.3,346.3 L263.6,346.8 L267.0,347.3 L270.4,347.9 L273.7,348.4 L277.1,348.9 L280.5,349.4 L283.8,350.0 L287.2,350.5 L290.5,351.1 L293.9,351.6 L297.3,352.2 L300.6,352.7 L304.0,353.3 L307.3,353.9 L310.7,354.5 L314.0,355.0 L317.4,355.6 L320.7,356.2 L324.1,356.8 L327.4,357.4 L330.8,358.0 L334.1,358.6 L337.5,359.2 L340.8,359.9 L344.2,360.5 L347.5,361.1 L350.9,361.8 L354.2,362.4 L357.5,363.0 L360.9,363.7 L364.2,364.4 L367.6,365.0 L370.9,365.7 L374.2,366.3 L377.6,367.0 L380.9,367.7 L384.3,368.4 L387.6,369.1 L390.9,369.8 L394.3,370.4 L397.6,371.1 L400.9,371.9 L404.3,372.6 L407.6,373.3 L410.9,374.0 L414.3,374.7 L417.6,375.4 L420.9,376.2 L424.3,376.9 L427.6,377.6 L430.9,378.4 L434.2,379.1 L437.6,379.9 L440.9,380.6 L444.2,381.4 L447.5,382.2 L450.9,382.9 L454.2,383.7 L457.5,384.5 L460.8,385.3 L464.2,386.0 L467.5,386.8 L470.8,387.6 L474.1,388.4 L477.4,389.2 L480.8,390.0 L484.1,390.8 L487.4,391.6 L490.7,392.4 L494.0,393.3 L497.4,394.1 L500.7,394.9 L504.0,395.7 L507.3,396.6 L510.6,397.4 L514.0,398.2 L517.3,399.1 L520.6,399.9 L523.9,400.8 L527.2,401.6 L530.5,402.5 L533.8,403.3 L537.2,404.2 L540.5,405.1 L543.8,406.0 L547.1,406.8 L550.4,407.7 L553.7,408.6 L557.0,409.5 L560.3,410.4 L563.7,411.2 L567.0,412.1 L570.3,413.0 L573.6,413.9 L576.9,414.8 L580.2,415.7 L583.5,416.7 L586.8,417.6 L590.2,418.5 L593.5,419.4 L596.8,420.3 L600.1,421.3 L603.4,422.2 L606.7,423.1 L610.0,424.0 L613.3,425.0 L616.6,425.9 L619.9,426.9 L623.2,427.8 L626.6,428.8 L629.9,429.7 L633.2,430.7 L636.5,431.6 L639.8,432.6 L643.1,433.5 L646.4,434.5 L649.7,435.5 L653.0,436.4 L656.3,437.4 L659.6,438.4 L663.0,439.4 L666.3,440.3 L669.6,441.3 L672.9,442.3 L676.2,443.3 L679.5,444.3 L682.8,445.3 L686.1,446.3 L689.4,447.3 L692.7,448.4 L696.0,449.4 L699.2,450.5 L702.5,451.5 L705.8,452.6 L709.0,453.7 L712.3,454.8 L715.5,455.9 L718.8,457.0 L722.0,458.2 L725.2,459.3 L728.4,460.5 L731.6,461.7 L734.8,463.0 L737.9,464.2 L741.1,465.5 L744.2,466.8 L747.4,468.1 L750.5,469.4 L753.6,470.8 L756.7,472.2 L759.7,473.6 L762.8,475.0 L765.8,476.5 L768.8,478.0 L771.8,479.5 L774.8,481.1 L777.7,482.7 L780.7,484.3 L783.6,486.0 L786.5,487.7 L789.4,489.4 L792.2,491.2 L795.0,493.0 L797.8,494.8 L800.6,496.7 L803.4,498.6 L806.1,500.5 L808.8,502.5 L811.5,504.5 L814.2,506.5 L816.8,508.5 L819.4,510.6 L822.0,512.8 L824.5,514.9 L827.1,517.1 L829.6,519.4 L832.0,521.6 L834.5,523.9 L836.9,526.2 L839.3,528.6 L841.6,531.0 L844.0,533.4 L846.3,535.9 L848.5,538.4 L850.8,540.9 L853.0,543.5 L855.1,546.0 L857.3,548.7 L859.4,551.3 L861.5,554.0 L863.5,556.7 L865.5,559.4 L867.5,562.2 L869.5,565.0 L871.4,567.8 L873.3,570.6 L875.2,573.5 L877.1,576.4 L878.9,579.3 L880.7,582.2 L882.4,585.2 L884.2,588.2 L885.9,591.2 L887.6,594.2 L889.2,597.2 L890.9,600.3 L892.5,603.3 L894.1,606.4 L895.6,609.5 L897.1,612.6 L898.6,615.8 L900.1,618.9 L901.6,622.1 L903.0,625.3 L904.4,628.4 L905.8,631.6 L907.1,634.8 L908.4,638.1 L909.7,641.3 L911.0,644.5 L912.3,647.8 L913.5,651.0 L914.7,654.3 L915.9,657.5 L917.1,660.8 L918.2,664.1 L919.3,667.3 L920.4,670.6 L921.5,673.9 L922.6,677.2 L923.6,680.4 L924.6,683.7 L925.6,687.0 L926.5,690.3 L927.5,693.6 L928.4,696.8 L929.3,700.1 L930.2,703.4 L931.1,706.6 L931.9,709.9 L932.8,713.1" fill="none" stroke="#48c1eb" stroke-width="5" stroke-linecap="butt"/><path d="M63.0,390.4 L66.1,390.7 L69.3,391.1 L72.4,391.4 L75.5,391.8 L78.7,392.2 L81.8,392.5 L85.0,392.9 L88.1,393.3 L91.2,393.6 L94.4,394.0 L97.5,394.4 L100.6,394.7 L103.8,395.1 L106.9,395.5 L110.0,395.9 L113.2,396.3 L116.3,396.7 L119.4,397.0 L122.5,397.4 L125.7,397.8 L128.8,398.2 L131.9,398.6 L135.0,399.0 L138.2,399.4 L141.3,399.8 L144.4,400.2 L147.5,400.6 L150.6,401.0 L153.7,401.4 L156.9,401.8 L160.0,402.3 L163.1,402.7 L166.2,403.1 L169.3,403.5 L172.4,403.9 L175.5,404.4 L178.7,404.8 L181.8,405.2 L184.9,405.7 L188.0,406.1 L191.1,406.5 L194.2,407.0 L197.3,407.4 L200.4,407.8 L203.5,408.3 L206.6,408.7 L209.7,409.2 L212.8,409.6 L215.9,410.1 L219.0,410.5 L222.1,411.0 L225.2,411.5 L228.3,411.9 L231.4,412.4 L234.5,412.9 L237.6,413.3 L240.7,413.8 L243.8,414.3 L246.9,414.8 L250.0,415.2 L253.1,415.7 L256.2,416.2 L259.3,416.7 L262.4,417.2 L265.5,417.7 L268.6,418.2 L271.7,418.7 L274.8,419.2 L277.8,419.7 L280.9,420.2 L284.0,420.7 L287.1,421.2 L290.2,421.7 L293.3,422.2 L296.4,422.7 L299.5,423.3 L302.5,423.8 L305.6,424.3 L308.7,424.8 L311.8,425.4 L314.9,425.9 L318.0,426.4 L321.0,427.0 L324.1,427.5 L327.2,428.1 L330.3,428.6 L333.4,429.1 L336.4,429.7 L339.5,430.3 L342.6,430.8 L345.7,431.4 L348.8,431.9 L351.8,432.5 L354.9,433.1 L358.0,433.6 L361.1,434.2 L364.1,434.8 L367.2,435.4 L370.3,436.0 L373.4,436.5 L376.4,437.1 L379.5,437.7 L382.6,438.3 L385.7,438.9 L388.7,439.5 L391.8,440.1 L394.9,440.7 L398.0,441.3 L401.0,441.9 L404.1,442.6 L407.2,443.2 L410.2,443.8 L413.3,444.4 L416.4,445.0 L419.5,445.7 L422.5,446.3 L425.6,446.9 L428.7,447.6 L431.7,448.2 L434.8,448.9 L437.9,449.5 L440.9,450.2 L444.0,450.8 L447.1,451.5 L450.2,452.1 L453.2,452.8 L456.3,453.5 L459.4,454.1 L462.4,454.8 L465.5,455.5 L468.6,456.2 L471.6,456.8 L474.7,457.5 L477.8,458.2 L480.8,458.9 L483.9,459.6 L487.0,460.3 L490.0,461.0 L493.1,461.7 L496.2,462.4 L499.2,463.1 L502.3,463.8 L505.4,464.5 L508.4,465.3 L511.5,466.0 L514.5,466.7 L517.6,467.4 L520.7,468.2 L523.7,468.9 L526.8,469.7 L529.9,470.4 L532.9,471.2 L536.0,471.9 L539.1,472.7 L542.1,473.4 L545.2,474.2 L548.3,474.9 L551.3,475.7 L554.4,476.5 L557.5,477.3 L560.5,478.0 L563.6,478.8 L566.7,479.6 L569.7,480.4 L572.8,481.2 L575.9,482.0 L578.9,482.8 L582.0,483.6 L585.0,484.4 L588.1,485.2 L591.2,486.0 L594.2,486.8 L597.3,487.7 L600.4,488.5 L603.4,489.3 L606.5,490.2 L609.6,491.0 L612.6,491.9 L615.7,492.7 L618.7,493.6 L621.8,494.5 L624.8,495.3 L627.9,496.2 L630.9,497.1 L633.9,498.0 L637.0,499.0 L640.0,499.9 L643.0,500.8 L646.0,501.8 L649.0,502.7 L652.0,503.7 L655.0,504.7 L658.0,505.7 L661.0,506.7 L664.0,507.7 L667.0,508.7 L669.9,509.8 L672.9,510.8 L675.9,511.9 L678.8,513.0 L681.7,514.1 L684.7,515.2 L687.6,516.3 L690.5,517.4 L693.4,518.6 L696.3,519.8 L699.2,521.0 L702.0,522.2 L704.9,523.4 L707.8,524.6 L710.6,525.9 L713.4,527.2 L716.3,528.5 L719.1,529.8 L721.9,531.1 L724.7,532.5 L727.4,533.9 L730.2,535.3 L732.9,536.7 L735.7,538.1 L738.4,539.6 L741.1,541.1 L743.8,542.6 L746.5,544.1 L749.1,545.6 L751.8,547.2 L754.4,548.8 L757.1,550.4 L759.7,552.0 L762.3,553.7 L764.8,555.4 L767.4,557.1 L769.9,558.9 L772.5,560.6 L775.0,562.4 L777.5,564.2 L779.9,566.1 L782.4,568.0 L784.8,569.9 L787.3,571.8 L789.7,573.7 L792.0,575.7 L794.4,577.7 L796.8,579.8 L799.1,581.8 L801.4,583.9 L803.7,586.0 L806.0,588.2 L808.2,590.3 L810.5,592.5 L812.7,594.7 L814.9,597.0 L817.0,599.2 L819.2,601.5 L821.3,603.8 L823.5,606.1 L825.5,608.5 L827.6,610.8 L829.7,613.2 L831.7,615.6 L833.7,618.1 L835.7,620.5 L837.7,623.0 L839.6,625.5 L841.6,628.0 L843.5,630.5 L845.4,633.0 L847.2,635.6 L849.1,638.2 L850.9,640.8 L852.7,643.4 L854.5,646.0 L856.2,648.6 L858.0,651.3 L859.7,654.0 L861.4,656.6 L863.1,659.3 L864.7,662.1 L866.3,664.8 L867.9,667.5 L869.5,670.3 L871.0,673.0 L872.6,675.8 L874.1,678.6 L875.6,681.4 L877.0,684.2 L878.5,687.0 L879.9,689.9 L881.3,692.7 L882.6,695.6 L884.0,698.4 L885.3,701.3 L886.6,704.2 L887.8,707.0 L889.1,709.9 L890.3,712.8 L891.5,715.7 L892.6,718.7 L893.8,721.6" fill="none" stroke="#48c1eb" stroke-width="5" stroke-linecap="butt"/><path d="M63.0,449.4 L65.9,449.8 L68.8,450.2 L71.8,450.7 L74.7,451.1 L77.6,451.5 L80.5,451.9 L83.5,452.3 L86.4,452.7 L89.3,453.1 L92.2,453.5 L95.2,453.9 L98.1,454.3 L101.0,454.7 L103.9,455.1 L106.8,455.5 L109.8,455.9 L112.7,456.3 L115.6,456.7 L118.5,457.1 L121.4,457.5 L124.3,457.9 L127.3,458.3 L130.2,458.7 L133.1,459.1 L136.0,459.5 L138.9,459.9 L141.8,460.3 L144.8,460.7 L147.7,461.1 L150.6,461.5 L153.5,461.9 L156.4,462.3 L159.3,462.7 L162.2,463.1 L165.1,463.5 L168.0,463.9 L171.0,464.3 L173.9,464.7 L176.8,465.1 L179.7,465.5 L182.6,465.9 L185.5,466.3 L188.4,466.7 L191.3,467.1 L194.2,467.5 L197.1,467.9 L200.0,468.3 L202.9,468.7 L205.8,469.1 L208.7,469.5 L211.6,469.9 L214.6,470.3 L217.5,470.7 L220.4,471.1 L223.3,471.6 L226.2,472.0 L229.1,472.4 L232.0,472.8 L234.9,473.2 L237.8,473.6 L240.7,474.0 L243.6,474.4 L246.5,474.8 L249.4,475.2 L252.3,475.7 L255.2,476.1 L258.1,476.5 L261.0,476.9 L263.9,477.3 L266.8,477.7 L269.7,478.2 L272.6,478.6 L275.5,479.0 L278.4,479.4 L281.2,479.9 L284.1,480.3 L287.0,480.7 L289.9,481.1 L292.8,481.6 L295.7,482.0 L298.6,482.4 L301.5,482.9 L304.4,483.3 L307.3,483.7 L310.2,484.2 L313.1,484.6 L316.0,485.1 L318.9,485.5 L321.8,486.0 L324.7,486.4 L327.6,486.9 L330.4,487.3 L333.3,487.8 L336.2,488.2 L339.1,488.7 L342.0,489.1 L344.9,489.6 L347.8,490.1 L350.7,490.5 L353.6,491.0 L356.5,491.5 L359.4,492.0 L362.3,492.4 L365.1,492.9 L368.0,493.4 L370.9,493.9 L373.8,494.3 L376.7,494.8 L379.6,495.3 L382.5,495.8 L385.4,496.3 L388.3,496.8 L391.1,497.3 L394.0,497.8 L396.9,498.3 L399.8,498.8 L402.7,499.3 L405.6,499.8 L408.5,500.3 L411.4,500.9 L414.3,501.4 L417.1,501.9 L420.0,502.4 L422.9,502.9 L425.8,503.5 L428.7,504.0 L431.6,504.5 L434.5,505.1 L437.4,505.6 L440.2,506.2 L443.1,506.7 L446.0,507.3 L448.9,507.8 L451.8,508.4 L454.7,508.9 L457.6,509.5 L460.4,510.1 L463.3,510.6 L466.2,511.2 L469.1,511.8 L472.0,512.4 L474.9,513.0 L477.8,513.5 L480.6,514.1 L483.5,514.7 L486.4,515.3 L489.3,515.9 L492.2,516.5 L495.1,517.1 L498.0,517.7 L500.9,518.4 L503.7,519.0 L506.6,519.6 L509.5,520.2 L512.4,520.9 L515.3,521.5 L518.2,522.1 L521.1,522.8 L523.9,523.4 L526.8,524.1 L529.7,524.7 L532.6,525.4 L535.5,526.0 L538.4,526.7 L541.3,527.4 L544.2,528.0 L547.0,528.7 L549.9,529.4 L552.8,530.1 L555.7,530.8 L558.6,531.5 L561.5,532.2 L564.4,532.9 L567.2,533.6 L570.1,534.3 L573.0,535.0 L575.9,535.8 L578.8,536.5 L581.6,537.3 L584.5,538.0 L587.4,538.8 L590.2,539.5 L593.1,540.3 L596.0,541.1 L598.8,541.9 L601.7,542.6 L604.5,543.4 L607.4,544.3 L610.2,545.1 L613.1,545.9 L615.9,546.7 L618.8,547.6 L621.6,548.4 L624.4,549.3 L627.3,550.2 L630.1,551.0 L632.9,551.9 L635.7,552.8 L638.5,553.7 L641.3,554.7 L644.1,555.6 L646.9,556.5 L649.7,557.5 L652.5,558.4 L655.3,559.4 L658.0,560.4 L660.8,561.4 L663.6,562.4 L666.3,563.4 L669.1,564.5 L671.8,565.5 L674.5,566.6 L677.3,567.6 L680.0,568.7 L682.7,569.8 L685.4,570.9 L688.1,572.0 L690.8,573.2 L693.5,574.3 L696.1,575.5 L698.8,576.7 L701.5,577.9 L704.1,579.1 L706.8,580.3 L709.4,581.5 L712.0,582.8 L714.6,584.0 L717.2,585.3 L719.8,586.6 L722.4,587.9 L725.0,589.3 L727.6,590.6 L730.1,592.0 L732.7,593.3 L735.2,594.7 L737.7,596.1 L740.3,597.6 L742.8,599.0 L745.3,600.5 L747.8,602.0 L750.2,603.5 L752.7,605.0 L755.1,606.5 L757.6,608.1 L760.0,609.6 L762.4,611.2 L764.8,612.8 L767.2,614.4 L769.6,616.1 L772.0,617.7 L774.3,619.4 L776.6,621.1 L779.0,622.9 L781.3,624.6 L783.6,626.4 L785.8,628.1 L788.1,629.9 L790.3,631.8 L792.6,633.6 L794.8,635.5 L797.0,637.3 L799.2,639.2 L801.3,641.2 L803.5,643.1 L805.6,645.1 L807.7,647.0 L809.8,649.1 L811.9,651.1 L813.9,653.1 L816.0,655.2 L818.0,657.3 L820.0,659.4 L822.0,661.6 L823.9,663.7 L825.8,665.9 L827.8,668.1 L829.7,670.3 L831.5,672.6 L833.4,674.9 L835.2,677.1 L837.0,679.5 L838.8,681.8 L840.6,684.2 L842.3,686.6 L844.1,689.0 L845.8,691.4 L847.4,693.9 L849.1,696.4 L850.7,698.9 L852.3,701.4 L853.9,704.0 L855.5,706.6 L857.0,709.2 L858.5,711.8 L860.0,714.5 L861.4,717.2 L862.8,719.9 L864.2,722.6 L865.6,725.4" fill="none" stroke="#48c1eb" stroke-width="5" stroke-linecap="butt"/></g>
<rect x="112.1" y="113.0" width="118.6" height="34.6" fill="#47c3ef"/>
<text x="119.80" y="137.8" font-family="'Liberation Sans', Arial, sans-serif" font-size="25.5" fill="#f4fcff" stroke="#f4fcff" stroke-width="0.35" textLength="101.39" lengthAdjust="spacingAndGlyphs">Resort 55</text>
<rect x="102.3" y="266.4" width="118.7" height="34.6" fill="#47c3ef"/>
<text x="109.40" y="291.5" font-family="'Liberation Sans', Arial, sans-serif" font-size="25.5" fill="#f4fcff" stroke="#f4fcff" stroke-width="0.35" textLength="100.18" lengthAdjust="spacingAndGlyphs">Resort 45</text>
<rect x="406.0" y="309.4" width="118.8" height="34.4" fill="#47c3ef"/>
<text x="412.80" y="333.5" font-family="'Liberation Sans', Arial, sans-serif" font-size="25.5" fill="#f4fcff" stroke="#f4fcff" stroke-width="0.35" textLength="102.19" lengthAdjust="spacingAndGlyphs">Resort 50</text>
<rect x="852.1" y="393.1" width="123.5" height="30.3" fill="#47c3ef"/>
<text x="854.20" y="415.6" font-family="'Liberation Sans', Arial, sans-serif" font-size="25.5" fill="#f4fcff" stroke="#f4fcff" stroke-width="0.35" textLength="116.60" lengthAdjust="spacingAndGlyphs">Resort 110</text>
<rect x="721.0" y="483.1" width="123.0" height="30.5" fill="#47c3ef"/>
<text x="731.40" y="505.9" font-family="'Liberation Sans', Arial, sans-serif" font-size="25.5" fill="#f4fcff" stroke="#f4fcff" stroke-width="0.35" textLength="101.39" lengthAdjust="spacingAndGlyphs">Resort 80</text>
<rect x="122.3" y="481.8" width="118.8" height="34.4" fill="#47c3ef"/>
<text x="129.80" y="505.9" font-family="'Liberation Sans', Arial, sans-serif" font-size="25.5" fill="#f4fcff" stroke="#f4fcff" stroke-width="0.35" textLength="101.39" lengthAdjust="spacingAndGlyphs">Resort 60</text>
<rect x="435.5" y="646.8" width="118.6" height="34.7" fill="#47c3ef"/>
<text x="442.80" y="672.5" font-family="'Liberation Sans', Arial, sans-serif" font-size="25.5" fill="#f4fcff" stroke="#f4fcff" stroke-width="0.35" textLength="102.00" lengthAdjust="spacingAndGlyphs">Resort 30</text>
<rect x="650.1" y="723.4" width="119.0" height="34.3" fill="#47c3ef"/>
<text x="657.60" y="748.1" font-family="'Liberation Sans', Arial, sans-serif" font-size="25.5" fill="#f4fcff" stroke="#f4fcff" stroke-width="0.35" textLength="100.78" lengthAdjust="spacingAndGlyphs">Resort 40</text>
<rect x="882.0" y="731.8" width="118.7" height="34.8" fill="#47c3ef"/>
<text x="889.60" y="757.4" font-family="'Liberation Sans', Arial, sans-serif" font-size="25.5" fill="#f4fcff" stroke="#f4fcff" stroke-width="0.35" textLength="102.21" lengthAdjust="spacingAndGlyphs">Resort 70</text>
<text x="12.30" y="65.35" font-family="'Liberation Sans', Arial, sans-serif" font-size="24.5" fill="#555557" textLength="25.96" lengthAdjust="spacingAndGlyphs">28</text>
<text x="12.70" y="172.85" font-family="'Liberation Sans', Arial, sans-serif" font-size="24.5" fill="#555557" textLength="25.11" lengthAdjust="spacingAndGlyphs">24</text>
<text x="12.70" y="287.60" font-family="'Liberation Sans', Arial, sans-serif" font-size="24.5" fill="#555557" textLength="25.11" lengthAdjust="spacingAndGlyphs">20</text>
<text x="11.50" y="401.20" font-family="'Liberation Sans', Arial, sans-serif" font-size="24.5" fill="#555557" textLength="27.00" lengthAdjust="spacingAndGlyphs">16</text>
<text x="11.50" y="520.45" font-family="'Liberation Sans', Arial, sans-serif" font-size="24.5" fill="#555557" textLength="27.00" lengthAdjust="spacingAndGlyphs">12</text>
<text x="25.90" y="644.90" font-family="'Liberation Sans', Arial, sans-serif" font-size="24.5" fill="#555557" textLength="14.86" lengthAdjust="spacingAndGlyphs">8</text>
<text x="26.90" y="771.50" font-family="'Liberation Sans', Arial, sans-serif" font-size="24.5" fill="#555557" textLength="12.59" lengthAdjust="spacingAndGlyphs">4</text>
<text x="54.10" y="938.05" font-family="'Liberation Sans', Arial, sans-serif" font-size="24.5" fill="#555557" textLength="15.63" lengthAdjust="spacingAndGlyphs">0</text>
<text x="204.30" y="937.00" font-family="'Liberation Sans', Arial, sans-serif" font-size="24.5" fill="#555557" textLength="31.15" lengthAdjust="spacingAndGlyphs">10</text>
<text x="347.10" y="937.00" font-family="'Liberation Sans', Arial, sans-serif" font-size="24.5" fill="#555557" textLength="29.83" lengthAdjust="spacingAndGlyphs">20</text>
<text x="464.90" y="937.00" font-family="'Liberation Sans', Arial, sans-serif" font-size="24.5" fill="#555557" textLength="29.87" lengthAdjust="spacingAndGlyphs">30</text>
<text x="568.10" y="937.00" font-family="'Liberation Sans', Arial, sans-serif" font-size="24.5" fill="#555557" textLength="28.58" lengthAdjust="spacingAndGlyphs">40</text>
<text x="656.10" y="937.00" font-family="'Liberation Sans', Arial, sans-serif" font-size="24.5" fill="#555557" textLength="28.54" lengthAdjust="spacingAndGlyphs">50</text>
<text x="729.70" y="937.00" font-family="'Liberation Sans', Arial, sans-serif" font-size="24.5" fill="#555557" textLength="28.54" lengthAdjust="spacingAndGlyphs">60</text>
<text x="850.50" y="936.90" font-family="'Liberation Sans', Arial, sans-serif" font-size="24.5" fill="#555557" textLength="29.18" lengthAdjust="spacingAndGlyphs">80</text>
<text x="929.10" y="936.90" font-family="'Liberation Sans', Arial, sans-serif" font-size="24.5" fill="#555557" textLength="43.61" lengthAdjust="spacingAndGlyphs">100</text>
<text x="1063.70" y="936.90" font-family="'Liberation Sans', Arial, sans-serif" font-size="24.5" fill="#555557" textLength="39.39" lengthAdjust="spacingAndGlyphs">120</text>
<text x="11.30" y="27.20" font-family="'Liberation Sans', Arial, sans-serif" font-size="25.5" fill="#555557" textLength="60.50" lengthAdjust="spacingAndGlyphs">H (m)</text>
<text x="1011.50" y="970.25" font-family="'Liberation Sans', Arial, sans-serif" font-size="25.5" fill="#555557" textLength="91.59" lengthAdjust="spacingAndGlyphs">Q (m³/h)</text>
</svg>
</body></html>
